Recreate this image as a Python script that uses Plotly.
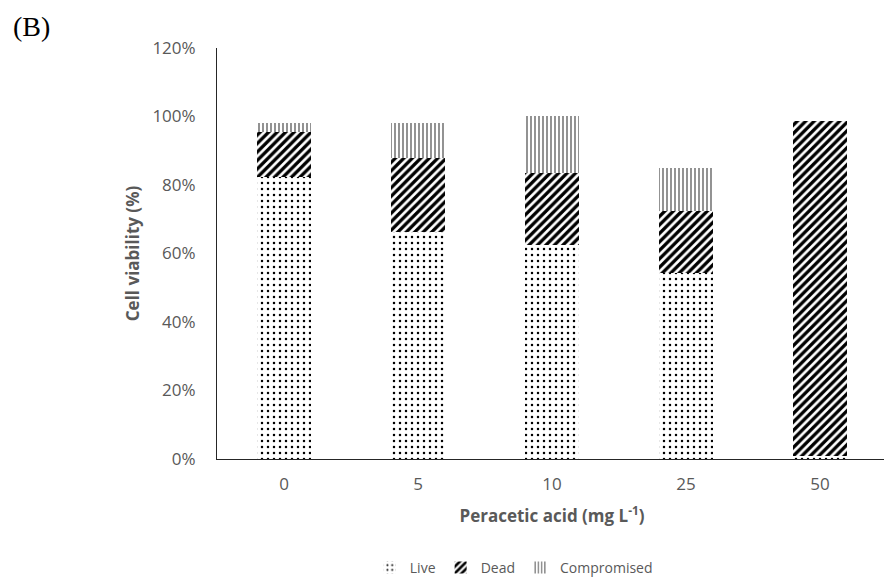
import plotly.graph_objects as go

categories = ["0", "5", "10", "25", "50"]
live = [82.3, 66.3, 62.5, 54.3, 1.0]
dead = [13.2, 21.6, 21.0, 18.1, 97.8]
compromised = [2.6, 10.2, 16.6, 12.6, 0.0]

y_ticks = [0, 20, 40, 60, 80, 100, 120]
y_ticklabels = [f"{v}%" for v in y_ticks]

grey = "#595959"
font_main = "Open Sans, Lato, sans-serif"

fig = go.Figure()
fig.add_trace(go.Bar(
    x=categories, y=live, name="Live",
    marker=dict(color="white", line=dict(width=0),
                pattern=dict(shape=".", fgcolor="black", bgcolor="white", fgopacity=1,
                             size=6, solidity=0.14)),
))
fig.add_trace(go.Bar(
    x=categories, y=dead, name="Dead",
    marker=dict(color="white", line=dict(width=0),
                pattern=dict(shape="/", fgcolor="black", bgcolor="white", fgopacity=1,
                             size=6, solidity=0.55)),
))
fig.add_trace(go.Bar(
    x=categories, y=compromised, name="Compromised",
    marker=dict(color="white", line=dict(width=0),
                pattern=dict(shape="|", fgcolor="#555555", bgcolor="white", fgopacity=1,
                             size=4, solidity=0.32)),
))

fig.update_layout(
    barmode="stack",
    bargap=0.6,
    width=892, height=579,
    paper_bgcolor="white", plot_bgcolor="white",
    margin=dict(l=209, r=13, t=40, b=128, autoexpand=False),
    font=dict(family=font_main, color=grey, size=15),
    showlegend=True,
    legend=dict(orientation="h", x=0.443, xanchor="center", y=-0.265, yanchor="middle",
                font=dict(size=14, color=grey), traceorder="normal"),
    xaxis=dict(
        type="category", showgrid=False, showline=True, linecolor="#262626",
        linewidth=1, ticks="", tickfont=dict(size=17, color=grey),
        ticklabelstandoff=10, automargin=False,
        title=dict(text="<b>Peracetic acid (mg L<sup>-1</sup>)</b>",
                   font=dict(size=17, color=grey), standoff=15),
    ),
    yaxis=dict(
        range=[0, 120], tickvals=y_ticks, ticktext=y_ticklabels,
        showgrid=False, showline=True, linecolor="#262626", linewidth=1,
        ticks="", tickfont=dict(size=17, color=grey), zeroline=False,
        ticklabelstandoff=17, automargin=False,
        title=dict(text="<b>Cell viability (%)</b>",
                   font=dict(size=17, color=grey), standoff=8),
    ),
    annotations=[dict(text="(B)", xref="paper", yref="paper", x=-0.3075, y=1.095,
                      xanchor="left", yanchor="top", showarrow=False,
                      font=dict(family="Liberation Serif, Times New Roman, serif",
                                size=28, color="black"))],
)

fig.write_html("out.html")
